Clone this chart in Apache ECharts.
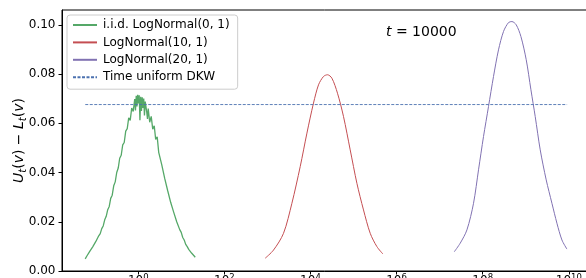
<!DOCTYPE html>
<html>
<head>
<meta charset="utf-8">
<script src="https://cdn.jsdelivr.net/npm/echarts@6/dist/echarts.min.js"></script>
<style>
  html, body { margin: 0; padding: 0; background: #fff; }
  #chart { width: 586px; height: 278px; }
</style>
</head>
<body>
<div id="chart"></div>
<script>
// x values are log10(v)
var seriesNames = ['i.i.d. LogNormal(0, 1)', 'LogNormal(10, 1)', 'LogNormal(20, 1)', 'Time uniform DKW'];

var greenX = [-1.231, -1.196, -1.161, -1.126, -1.092, -1.057, -1.022, -0.987, -0.952, -0.917,
  -0.882, -0.847, -0.813, -0.778, -0.743, -0.708, -0.673, -0.639, -0.604, -0.569,
  -0.534, -0.499, -0.464, -0.430, -0.395, -0.360, -0.325, -0.290, -0.255, -0.221,
  -0.186, -0.151, -0.116, -0.081, -0.064, -0.046, -0.029, -0.012, 0.006, 0.023,
  0.040, 0.058, 0.075, 0.093, 0.110, 0.128, 0.145, 0.163, 0.198, 0.215,
  0.232, 0.267, 0.302, 0.337, 0.372, 0.406, 0.441, 0.476, 0.511, 0.546,
  0.581, 0.615, 0.650, 0.685, 0.720, 0.755, 0.790, 0.825, 0.859, 0.894,
  0.929, 0.964, 0.999, 1.034, 1.068, 1.103, 1.138, 1.173, 1.208, 1.243,
  1.277, 1.300, 1.324];
var greenY = [0.0049, 0.0060, 0.0066, 0.0080, 0.0086, 0.0098, 0.0103, 0.0119, 0.0126, 0.0143,
  0.0152, 0.0172, 0.0183, 0.0208, 0.0222, 0.0249, 0.0262, 0.0295, 0.0308, 0.0346,
  0.0362, 0.0400, 0.0418, 0.0458, 0.0470, 0.0512, 0.0522, 0.0568, 0.0578, 0.0622,
  0.0612, 0.0662, 0.0648, 0.0698, 0.0652, 0.0712, 0.0668, 0.0716, 0.0680, 0.0714,
  0.0612, 0.0708, 0.0650, 0.0705, 0.0662, 0.0700, 0.0632, 0.0688, 0.0645, 0.0618,
  0.0660, 0.0604, 0.0628, 0.0576, 0.0590, 0.0534, 0.0545, 0.0482, 0.0490, 0.0432,
  0.0432, 0.0376, 0.0378, 0.0326, 0.0328, 0.0278, 0.0278, 0.0238, 0.0232, 0.0200,
  0.0192, 0.0168, 0.0157, 0.0136, 0.0126, 0.0108, 0.0099, 0.0088, 0.0082, 0.0072,
  0.0066, 0.0061, 0.0056];

var redX = [2.949, 3.142, 3.374, 3.569, 3.762, 3.918, 4.071, 4.187, 4.303, 4.396,
  4.498, 4.628, 4.768, 4.923, 5.079, 5.232, 5.388, 5.543, 5.683];
var redY = [0.0052, 0.0085, 0.0153, 0.0275, 0.0424, 0.0560, 0.0682, 0.0756, 0.0790, 0.0797,
  0.0783, 0.0722, 0.0627, 0.0492, 0.0356, 0.0248, 0.0153, 0.0099, 0.0069];

var purpleX = [7.339, 7.478, 7.634, 7.787, 7.903, 8.019, 8.135, 8.251, 8.367, 8.484,
  8.600, 8.679, 8.778, 8.888, 9.011, 9.120, 9.220, 9.336, 9.475, 9.608,
  9.724, 9.840, 9.956];
var purpleY = [0.0078, 0.0113, 0.0167, 0.0275, 0.0411, 0.0546, 0.0668, 0.0790, 0.0898, 0.0973,
  0.1009, 0.1013, 0.1000, 0.0952, 0.0858, 0.0736, 0.0627, 0.0492, 0.0370, 0.0275,
  0.0194, 0.0126, 0.0089];

var dkwX = [-1.23, 9.96];
var dkwY = [0.0676, 0.0676];

var xTicks = [0, 2, 4, 6, 8, 10];
var yTicks = [0, 0.02, 0.04, 0.06, 0.08, 0.10];

function pairs(xs, ys) {
    return xs.map(function (x, i) { return [x, ys[i]]; });
}

var font = 'DejaVu Sans';
var chart = echarts.init(document.getElementById('chart'), null, { renderer: 'canvas' });

var option = {
    animation: false,
    textStyle: { fontFamily: font },
    grid: {
        left: 62, right: -6.5, top: 10, bottom: 7,
        outerBoundsMode: 'none',
        containLabel: false,
        show: true, borderColor: '#000', borderWidth: 1
    },
    graphic: [{
        type: 'text',
        left: 386, top: 25,
        style: {
            text: '{i|t} = 10000',
            font: '14px DejaVu Sans',
            fill: '#000',
            rich: { i: { fontStyle: 'italic', fontSize: 14, fontFamily: font } }
        }
    }],
    legend: {
        orient: 'vertical',
        left: 67, top: 15,
        padding: [4, 8, 6, 5],
        itemWidth: 24, itemHeight: 12, itemGap: 5.4,
        backgroundColor: 'rgba(255,255,255,0.8)',
        borderColor: '#cccccc', borderWidth: 1, borderRadius: 3,
        itemStyle: { opacity: 0 },
        textStyle: { fontFamily: font, fontSize: 12, color: '#000', padding: [0, 0, 0, 1] },
        data: seriesNames
    },
    xAxis: {
        type: 'value',
        min: -1.77, max: 10.55,
        axisLine: { onZero: false, lineStyle: { color: '#000', width: 1 } },
        axisTick: { length: 3.5, lineStyle: { color: '#000' }, customValues: xTicks },
        splitLine: { show: false },
        axisLabel: {
            customValues: xTicks,
            margin: 2,
            color: '#000',
            formatter: function (v) { return '{b|10}{s|' + v + '}'; },
            rich: {
                b: { fontSize: 12, fontFamily: font, color: '#000', lineHeight: 14, verticalAlign: 'bottom' },
                s: { fontSize: 8.5, fontFamily: font, color: '#000', lineHeight: 9, verticalAlign: 'top' }
            }
        }
    },
    yAxis: {
        type: 'value',
        min: 0, max: 0.106,
        axisLine: { show: true, onZero: false, lineStyle: { color: '#000', width: 1 } },
        axisTick: { show: true, length: 3.5, lineStyle: { color: '#000' }, customValues: yTicks },
        splitLine: { show: false },
        axisLabel: {
            customValues: yTicks,
            margin: 6.5,
            fontSize: 12, fontFamily: font, color: '#000',
            formatter: function (v) { return v.toFixed(2); }
        },
        name: '{i|U}{s|t}{n|(}{i|v}{n|) − }{i|L}{s|t}{n|(}{i|v}{n|)}',
        nameLocation: 'middle',
        nameGap: 34,
        nameMoveOverlap: false,
        nameTextStyle: {
            rich: {
                i: { fontSize: 14, fontStyle: 'italic', fontFamily: font, color: '#000', lineHeight: 18, verticalAlign: 'middle' },
                n: { fontSize: 14, fontFamily: font, color: '#000', lineHeight: 18, verticalAlign: 'middle' },
                s: { fontSize: 10, fontStyle: 'italic', fontFamily: font, color: '#000', lineHeight: 18, verticalAlign: 'bottom' }
            }
        }
    },
    series: [
        {
            name: seriesNames[0], type: 'line', symbol: 'none',
            lineStyle: { color: '#55a868', width: 1.3 }, itemStyle: { color: '#55a868' },
            data: pairs(greenX, greenY)
        },
        {
            name: seriesNames[1], type: 'line', symbol: 'none', smooth: 0.3,
            lineStyle: { color: '#c44e52', width: 1 }, itemStyle: { color: '#c44e52' },
            data: pairs(redX, redY)
        },
        {
            name: seriesNames[2], type: 'line', symbol: 'none', smooth: 0.3,
            lineStyle: { color: '#8172b2', width: 1 }, itemStyle: { color: '#8172b2' },
            data: pairs(purpleX, purpleY)
        },
        {
            name: seriesNames[3], type: 'line', symbol: 'none',
            lineStyle: { color: '#4c72b0', width: 0.9, type: [3, 1.5] }, itemStyle: { color: '#4c72b0' },
            data: pairs(dkwX, dkwY)
        }
    ]
};

chart.setOption(option);
</script>
</body>
</html>
